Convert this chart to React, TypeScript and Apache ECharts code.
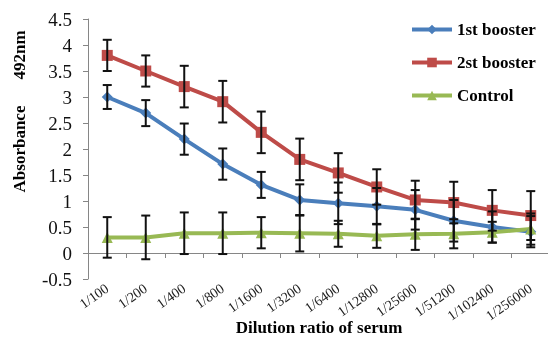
import { useEffect, useRef } from "react";
import * as echarts from "echarts";

const categories = ["1/100", "1/200", "1/400", "1/800", "1/1600", "1/3200", "1/6400", "1/12800", "1/25600", "1/51200", "1/102400", "1/256000"];
const booster1 = [3.0, 2.69, 2.19, 1.71, 1.31, 1.02, 0.955, 0.9, 0.83, 0.62, 0.5, 0.41];
const booster1Err = [0.23, 0.25, 0.3, 0.3, 0.25, 0.3, 0.4, 0.35, 0.38, 0.4, 0.3, 0.3];
const booster2 = [3.8, 3.5, 3.2, 2.91, 2.32, 1.8, 1.54, 1.27, 1.02, 0.97, 0.82, 0.72];
const booster2Err = [0.3, 0.3, 0.4, 0.4, 0.4, 0.4, 0.38, 0.34, 0.37, 0.4, 0.39, 0.47];
const control = [0.3, 0.3, 0.38, 0.38, 0.39, 0.38, 0.37, 0.33, 0.36, 0.37, 0.4, 0.46];
const controlErr = [0.39, 0.42, 0.4, 0.4, 0.3, 0.35, 0.25, 0.23, 0.3, 0.28, 0.2, 0.3];
const seriesNames = ["1st booster", "2st booster", "Control"];

const FONT = "'Liberation Serif', 'Times New Roman', serif";

function errSeries(vals: number[], errs: number[], name: string) {
  return {
    type: "custom",
    name: name + " error",
    silent: true,
    z: 5,
    encode: { x: 0, y: [1, 2] },
    data: vals.map((v, i) => [i, v - errs[i], v + errs[i]]),
    renderItem: (_params: any, api: any) => {
      const x = api.value(0);
      const lo = api.coord([x, api.value(1)]);
      const hi = api.coord([x, api.value(2)]);
      const w = 4.5;
      const st = { stroke: "#111", lineWidth: 2 };
      return {
        type: "group",
        children: [
          { type: "line", shape: { x1: lo[0], y1: lo[1], x2: hi[0], y2: hi[1] }, style: st },
          { type: "line", shape: { x1: lo[0] - w, y1: lo[1], x2: lo[0] + w, y2: lo[1] }, style: st },
          { type: "line", shape: { x1: hi[0] - w, y1: hi[1], x2: hi[0] + w, y2: hi[1] }, style: st },
        ],
      };
    },
  };
}

export default function App() {
  const ref = useRef<HTMLDivElement>(null);
  useEffect(() => {
    if (!ref.current) return;
    const chart = echarts.init(ref.current, undefined, { renderer: "svg" });
    const colors = ["#4a7ebb", "#be4b48", "#98b954"];
    chart.setOption({
      animation: false,
      color: colors,
      grid: { left: 88, top: 19, width: 462, height: 260, containLabel: false, outerBoundsMode: "none" },
      legend: {
        data: seriesNames,
        orient: "vertical",
        left: 405,
        top: 15,
        itemWidth: 40,
        itemHeight: 12,
        itemGap: 14,
        lineStyle: { width: 4 },
        textStyle: { fontFamily: FONT, fontWeight: "bold", fontSize: 17, color: "#000", lineHeight: 19 },
      },
      xAxis: {
        type: "category",
        data: categories,
        boundaryGap: true,
        axisLine: { onZero: true, lineStyle: { color: "#868686", width: 1 } },
        axisTick: { show: true, length: 5, lineStyle: { color: "#868686" } },
        axisLabel: { rotate: 35, margin: 8, fontFamily: FONT, fontSize: 14, color: "#222", interval: 0 },
        splitLine: { show: false },
      },
      yAxis: {
        type: "value",
        min: -0.5,
        max: 4.5,
        interval: 0.5,
        axisLine: { show: true, lineStyle: { color: "#868686", width: 1 } },
        axisTick: { show: true, length: 5, lineStyle: { color: "#868686" } },
        axisLabel: { margin: 16, fontFamily: FONT, fontSize: 19, color: "#111" },
        splitLine: { show: false },
      },
      graphic: [
        {
          type: "text",
          x: 19,
          y: 149,
          rotation: Math.PI / 2,
          style: { text: "Absorbance", font: "bold 17px " + FONT, fill: "#000", align: "center", verticalAlign: "middle" },
        },
        {
          type: "text",
          x: 19,
          y: 55,
          rotation: Math.PI / 2,
          style: { text: "492nm", font: "bold 17px " + FONT, fill: "#000", align: "center", verticalAlign: "middle" },
        },
        {
          type: "text",
          x: 319,
          y: 327,
          style: { text: "Dilution ratio of serum", font: "bold 17px " + FONT, fill: "#000", align: "center", verticalAlign: "middle" },
        },
      ],
      series: [
        {
          type: "line",
          name: seriesNames[0],
          data: booster1,
          symbol: "diamond",
          symbolSize: 11,
          lineStyle: { width: 4, color: colors[0] },
          itemStyle: { color: colors[0] },
          z: 3,
        },
        {
          type: "line",
          name: seriesNames[1],
          data: booster2,
          symbol: "rect",
          symbolSize: 11,
          lineStyle: { width: 4, color: colors[1] },
          itemStyle: { color: colors[1] },
          z: 3,
        },
        {
          type: "line",
          name: seriesNames[2],
          data: control,
          symbol: "triangle",
          symbolSize: 11,
          lineStyle: { width: 4, color: colors[2] },
          itemStyle: { color: colors[2] },
          z: 3,
        },
        errSeries(booster1, booster1Err, seriesNames[0]),
        errSeries(booster2, booster2Err, seriesNames[1]),
        errSeries(control, controlErr, seriesNames[2]),
      ],
    });
    return () => chart.dispose();
  }, []);
  return <div ref={ref} style={{ position: "fixed", left: 0, top: 0, width: 548, height: 339 }} />;
}
